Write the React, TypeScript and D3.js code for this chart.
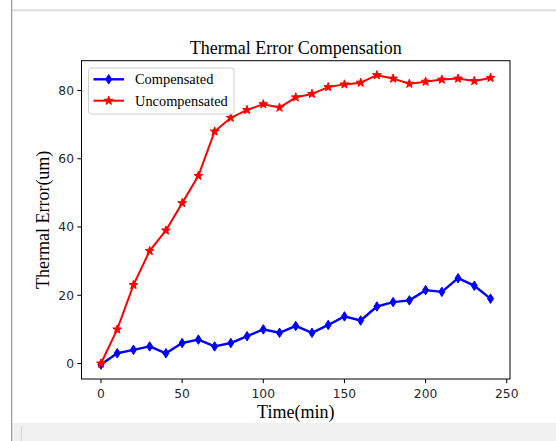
import React from "react";
import * as d3 from "d3";

const timeMin = [0, 10, 20, 30, 40, 50, 60, 70, 80, 90, 100, 110, 120, 130, 140, 150, 160, 170, 180, 190, 200, 210, 220, 230, 240];
const compensated = [-0.3, 3, 4, 5, 3, 6, 7, 5, 6, 8, 10, 9, 11, 9, 11.3, 13.8, 12.6, 16.7, 18, 18.5, 21.5, 21, 25, 22.8, 19];
const uncompensated = [0, 10, 23, 33, 39, 47, 55, 68, 72, 74.3, 76, 75, 78, 79, 81, 81.8, 82.3, 84.5, 83.5, 82, 82.6, 83.2, 83.5, 82.8, 83.7];
const xTicks = [0, 50, 100, 150, 200, 250];
const yTicks = [0, 20, 40, 60, 80];

const W = 556;
const H = 441;
const L = 81.5, R = 510, T = 60.7, B = 379;

function starPath(r: number) {
  const pts: string[] = [];
  for (let i = 0; i < 10; i++) {
    const rr = i % 2 === 0 ? r : r * 0.4;
    const a = -Math.PI / 2 + (i * Math.PI) / 5;
    pts.push(`${(rr * Math.cos(a)).toFixed(2)},${(rr * Math.sin(a)).toFixed(2)}`);
  }
  return "M" + pts.join("L") + "Z";
}
function diamondPath(h: number, w: number) {
  return `M0,${-h / 2}L${w / 2},0L0,${h / 2}L${-w / 2},0Z`;
}

export default function App() {
  const xMin = d3.min(timeMin)!, xMax = d3.max(timeMin)!;
  const xPad = (xMax - xMin) * 0.05;
  const all = compensated.concat(uncompensated);
  const yMin = d3.min(all)!, yMax = d3.max(all)!;
  const yPad = (yMax - yMin) * 0.05;
  const x = d3.scaleLinear().domain([xMin - xPad, xMax + xPad]).range([L, R]);
  const y = d3.scaleLinear().domain([yMin - yPad, yMax + yPad]).range([B, T]);
  const line = d3.line<number>().x((_, i) => x(timeMin[i])).y((d) => y(d));
  const star = starPath(4.6);
  const diamond = diamondPath(9.5, 6);
  const serif = "'Liberation Serif', 'Times New Roman', serif";
  const sans = "'DejaVu Sans', sans-serif";

  return (
    <div style={{ position: "absolute", left: 0, top: 0 }}>
      <svg width={W} height={H} style={{ display: "block" }}>
        <rect x={0} y={0} width={W} height={H} fill="#fff" />
        {/* notebook frame */}
        <rect x={12} y={9} width={W - 12} height={2.5} fill="#e2e2e2" />
        <rect x={12} y={423} width={W - 12} height={H - 423} fill="#f0f0f0" />
        <rect x={21} y={427} width={1} height={H - 427} fill="#d6d6d6" />
        <rect x={11} y={0} width={1.2} height={H} fill="#9a9a9a" />

        {/* title */}
        <text x={(L + R) / 2} y={54} textAnchor="middle" fontFamily={serif} fontSize={18} fill="#000">
          Thermal Error Compensation
        </text>

        {/* axes ticks */}
        {xTicks.map((t) => (
          <g key={"x" + t}>
            <line x1={x(t)} x2={x(t)} y1={B} y2={B + 4.2} stroke="#000" strokeWidth={1} />
            <text x={x(t)} y={397.5} textAnchor="middle" fontFamily={sans} fontSize={12.3} fill="#262626">
              {t}
            </text>
          </g>
        ))}
        {yTicks.map((t) => (
          <g key={"y" + t}>
            <line x1={L - 4.2} x2={L} y1={y(t)} y2={y(t)} stroke="#000" strokeWidth={1} />
            <text x={L - 7.5} y={y(t) + 4.3} textAnchor="end" fontFamily={sans} fontSize={12.3} fill="#262626">
              {t}
            </text>
          </g>
        ))}

        {/* axis labels */}
        <text x={(L + R) / 2} y={418} textAnchor="middle" fontFamily={serif} fontSize={18} fill="#000">
          Time(min)
        </text>
        <text
          transform={`translate(${48.5},${(T + B) / 2}) rotate(-90)`}
          textAnchor="middle"
          fontFamily={serif}
          fontSize={18}
          fill="#000"
        >
          Thermal Error(um)
        </text>

        {/* series */}
        <path d={line(compensated)!} fill="none" stroke="#0000ff" strokeWidth={2.4} strokeLinejoin="round" />
        {compensated.map((v, i) => (
          <path key={"c" + i} d={diamond} transform={`translate(${x(timeMin[i])},${y(v)})`} fill="#0000ff" stroke="#0000ff" strokeWidth={1} />
        ))}
        <path d={line(uncompensated)!} fill="none" stroke="#ff0000" strokeWidth={2} strokeLinejoin="round" />
        {uncompensated.map((v, i) => (
          <path key={"u" + i} d={star} transform={`translate(${x(timeMin[i])},${y(v)})`} fill="#ff0000" stroke="#ff0000" strokeWidth={1} />
        ))}

        {/* spines */}
        <rect x={L} y={T} width={R - L} height={B - T} fill="none" stroke="#000" strokeWidth={1} />

        {/* legend */}
        <rect x={88.5} y={68} width={145.5} height={46} rx={2.5} fill="#fff" fillOpacity={0.8} stroke="#d0d0d0" strokeWidth={1} />
        <line x1={93.5} x2={124} y1={79.3} y2={79.3} stroke="#0000ff" strokeWidth={2.4} />
        <path d={diamond} transform={`translate(108.7,79.3)`} fill="#0000ff" stroke="#0000ff" strokeWidth={1} />
        <text x={135} y={84.3} fontFamily={serif} fontSize={14.4} fill="#000">Compensated</text>
        <line x1={93.5} x2={124} y1={100.7} y2={100.7} stroke="#ff0000" strokeWidth={2} />
        <path d={star} transform={`translate(108.7,100.7)`} fill="#ff0000" stroke="#ff0000" strokeWidth={1} />
        <text x={135} y={105.7} fontFamily={serif} fontSize={14.4} fill="#000">Uncompensated</text>
      </svg>
    </div>
  );
}
